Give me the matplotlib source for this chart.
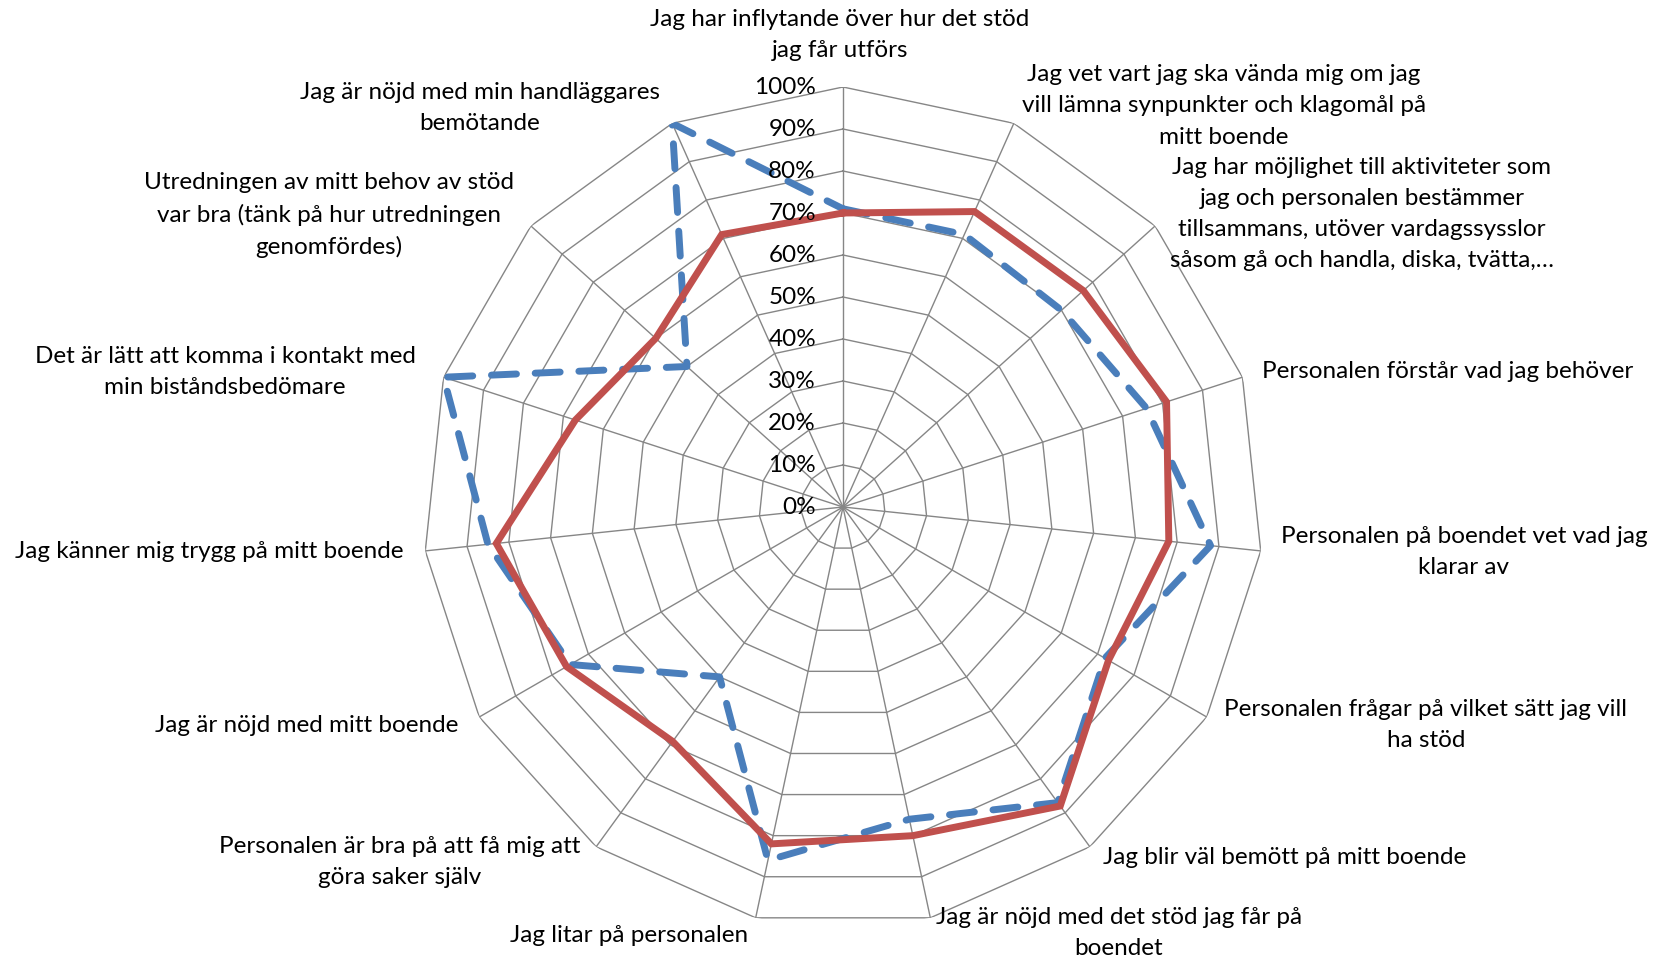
import numpy as np
import matplotlib
matplotlib.use("Agg")
import matplotlib.pyplot as plt
from matplotlib.transforms import offset_copy

categories = [
    "Jag har inflytande över hur det stöd\njag får utförs",
    "Jag vet vart jag ska vända mig om jag\nvill lämna synpunkter och klagomål på\nmitt boende",
    "Jag har möjlighet till aktiviteter som\njag och personalen bestämmer\ntillsammans, utöver vardagssysslor\nsåsom gå och handla, diska, tvätta,…",
    "Personalen förstår vad jag behöver",
    "Personalen på boendet vet vad jag\nklarar av",
    "Personalen frågar på vilket sätt jag vill\nha stöd",
    "Jag blir väl bemött på mitt boende",
    "Jag är nöjd med det stöd jag får på\nboendet",
    "Jag litar på personalen",
    "Personalen är bra på att få mig att\ngöra saker själv",
    "Jag är nöjd med mitt boende",
    "Jag känner mig trygg på mitt boende",
    "Det är lätt att komma i kontakt med\nmin biståndsbedömare",
    "Utredningen av mitt behov av stöd\nvar bra (tänk på hur utredningen\ngenomfördes)",
    "Jag är nöjd med min handläggares\nbemötande",
]
series_blue = [71, 71, 70, 76, 88, 72, 87, 76, 86, 50, 75, 85, 100, 50, 100]
series_red = [70, 77, 77, 81, 78, 73, 88, 80, 82, 69, 76, 83, 67, 60, 71]
ring_levels = [0, 10, 20, 30, 40, 50, 60, 70, 80, 90, 100]
ring_labels = ["0%", "10%", "20%", "30%", "40%", "50%", "60%", "70%", "80%", "90%", "100%"]

# label layout (figure pixel centres of each label block)
label_pos = [
    (840, 35), (1224, 106), (1362, 214), (1448, 372), (1464, 552),
    (1426, 725), (1285, 858), (1119, 933), (629, 935), (400, 862),
    (307, 726), (209, 552), (225, 372), (329, 215), (480, 108),
]

W, H = 1666, 964
plt.rcParams['font.family'] = ['Lato', 'DejaVu Sans']
fig = plt.figure(figsize=(W / 100, H / 100), dpi=100)
cx, cy, R = 843, 507, 420
ax = fig.add_axes([(cx - R) / W, (H - cy - R) / H, 2 * R / W, 2 * R / H], polar=True)
ax.set_theta_zero_location('N')
ax.set_theta_direction(-1)
ax.set_ylim(0, 100)
ax.grid(False)
ax.spines['polar'].set_visible(False)
ax.set_xticks([])
ax.set_yticks([])
ax.patch.set_alpha(0)

n = len(categories)
angles = np.arange(n) * 2 * np.pi / n
ang_c = np.append(angles, angles[0])
grid_col = '#868686'

for r in ring_levels[1:]:
    ax.plot(ang_c, [r] * (n + 1), color=grid_col, lw=1.0, zorder=1)
for a in angles:
    ax.plot([a, a], [0, 100], color=grid_col, lw=1.0, zorder=1)

blue = np.append(series_blue, series_blue[0])
red = np.append(series_red, series_red[0])
ax.plot(ang_c, blue, color='#4A7EBB', lw=5, ls=(0, (3.6, 2.7)),
        dash_capstyle='round', solid_joinstyle='miter', zorder=3)
ax.plot(ang_c, red, color='#C0504D', lw=5, solid_joinstyle='miter', zorder=4)

trans = offset_copy(ax.transData, fig=fig, x=-27, y=0, units='dots')
for r, lab in zip(ring_levels, ring_labels):
    ax.text(0, r, lab, transform=trans, ha='right', va='center', fontsize=17.5, color='black', zorder=5)

for lab, (px, py) in zip(categories, label_pos):
    fig.text(px / W, 1 - py / H, lab, ha='center', va='center', fontsize=17.5,
             linespacing=1.6, color='black')

fig.savefig('out.png', dpi=100, facecolor='white')
